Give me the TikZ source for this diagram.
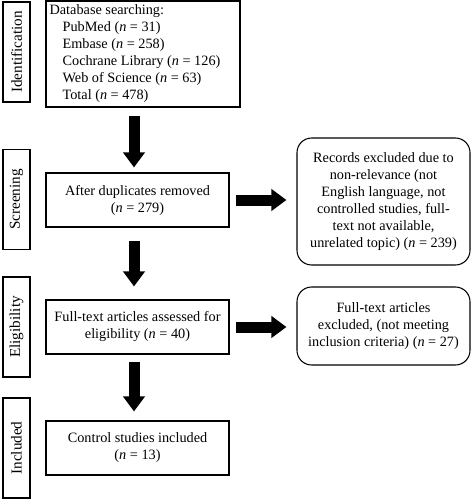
\documentclass[tikz,border=0pt]{standalone}
\usepackage{fontspec}
\setmainfont{Liberation Serif}
\usetikzlibrary{arrows.meta}

\tikzset{
  txt/.style={font=\fontsize{10.7}{12.75}\selectfont},
  stagebox/.style={font=\fontsize{11.4}{13}\selectfont, draw, line width=0.8pt, rotate=90, minimum width=75pt, minimum height=20.25pt, inner sep=0pt},
  mainbox/.style={txt, draw, line width=0.8pt, minimum width=137.25pt, minimum height=40.5pt, align=center, inner sep=2pt},
  exclbox/.style={txt, draw, line width=0.8pt, rounded corners=11pt, minimum width=129.75pt, align=center, inner sep=2pt},
  blockarrow/.style={line width=8.25pt, -{Triangle[width=15.75pt,length=11.25pt]}},
}

\begin{document}
\begin{tikzpicture}[x=0.75pt, y=-0.75pt]
\useasboundingbox (0,0) rectangle (471,500);

% Stages
\foreach \name/\ypos/\stage in {ident/52/Identification, screen/199.5/Screening, elig/327/Eligibility, incl/448/Included}
  \node[stagebox] (\name) at (16.5,\ypos) {\stage};

% Main column
\node[mainbox, minimum width=145.5pt, minimum height=79.5pt, align=left] (search) at (143,54)
  {Database searching:\\
   \hspace*{9.75pt}PubMed (\textit{n} = 31)\\
   \hspace*{9.75pt}Embase (\textit{n} = 258)\\
   \hspace*{9.75pt}Cochrane Library (\textit{n} = 126)\rule{12pt}{0pt}\\
   \hspace*{9.75pt}Web of Science (\textit{n} = 63)\\
   \hspace*{9.75pt}Total (\textit{n} = 478)};
\node[mainbox] (dup) at (137.5,200) {After duplicates removed\\(\textit{n} = 279)};
\node[mainbox] (full) at (137.5,327) {Full-text articles assessed for\\eligibility (\textit{n} = 40)};
\node[mainbox] (ctrl) at (137.5,448) {Control studies included\\(\textit{n} = 13)};

% Exclusions
\node[exclbox, minimum height=95.25pt] (rec) at (383.5,201.5)
  {Records excluded due to\\non-relevance (not\\English language, not\\controlled studies, full-\\text not available,\\unrelated topic) (\textit{n} = 239)};
\node[exclbox, minimum height=58.5pt] (excl) at (383.5,326)
  {Full-text articles\\excluded, (not meeting\\inclusion criteria) (\textit{n} = 27)};

% Arrows
\coordinate (axis) at (134,0);
\draw[blockarrow, shorten <=6pt, shorten >=3.75pt] (axis |- search.south) -- (axis |- dup.north);
\draw[blockarrow, shorten <=9.75pt, shorten >=9.75pt] (axis |- dup.south) -- (axis |- full.north);
\draw[blockarrow, shorten <=5.25pt, shorten >=6.75pt] (axis |- full.south) -- (axis |- ctrl.north);
\draw[blockarrow, shorten <=4.5pt, shorten >=7.5pt] (dup.east) -- (dup.east -| rec.west);
\draw[blockarrow, shorten <=4.5pt, shorten >=7.5pt] (full.east) -- (full.east -| excl.west);

\end{tikzpicture}
\end{document}
